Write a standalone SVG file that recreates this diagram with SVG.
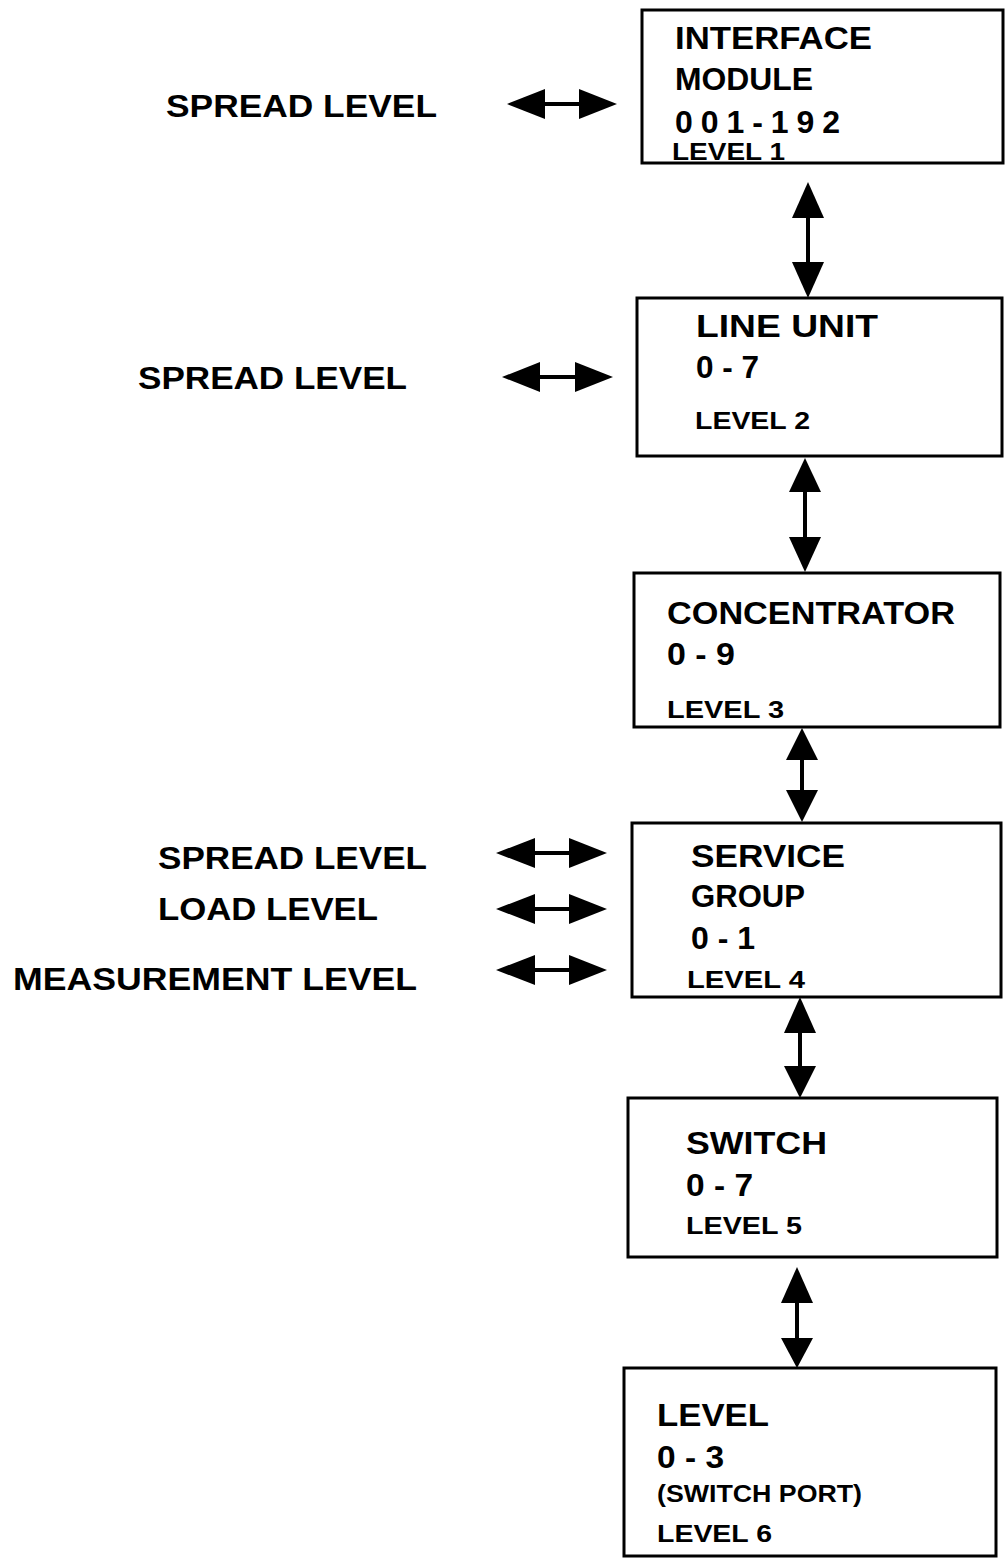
<svg xmlns="http://www.w3.org/2000/svg" width="1006" height="1558" viewBox="0 0 1006 1558">
<style>
.box{fill:#fff;stroke:#000;stroke-width:3}
.t{font-family:"Liberation Sans",Arial,sans-serif;font-weight:bold;font-size:32px;fill:#000}
.s{font-family:"Liberation Sans",Arial,sans-serif;font-weight:bold;font-size:24px;fill:#000}
.l{font-family:"Liberation Sans",Arial,sans-serif;font-weight:bold;font-size:32px;fill:#000}
.shaft{stroke:#000;stroke-width:4;fill:none}
.head{fill:#000}
</style>
<rect width="1006" height="1558" fill="#fff"/>
<g id="labels">
<text class="l" x="166" y="117" textLength="271" lengthAdjust="spacingAndGlyphs">SPREAD LEVEL</text>
<text class="l" x="138" y="389" textLength="269" lengthAdjust="spacingAndGlyphs">SPREAD LEVEL</text>
<text class="l" x="158" y="869" textLength="269" lengthAdjust="spacingAndGlyphs">SPREAD LEVEL</text>
<text class="l" x="158" y="920" textLength="220" lengthAdjust="spacingAndGlyphs">LOAD LEVEL</text>
<text class="l" x="13" y="990" textLength="404" lengthAdjust="spacingAndGlyphs">MEASUREMENT LEVEL</text>
</g>
<g id="node1">
<rect class="box" x="642" y="10" width="361" height="153"/>
<text class="t" x="675" y="49" textLength="197" lengthAdjust="spacingAndGlyphs">INTERFACE</text>
<text class="t" x="675" y="90" textLength="138" lengthAdjust="spacingAndGlyphs">MODULE</text>
<text class="t" x="675" y="133" textLength="165" lengthAdjust="spacing">001-192</text>
<text class="s" x="672" y="160" textLength="113" lengthAdjust="spacingAndGlyphs">LEVEL 1</text>
</g>
<g id="node2">
<rect class="box" x="637" y="298" width="365" height="158"/>
<text class="t" x="696" y="337" textLength="182" lengthAdjust="spacingAndGlyphs">LINE UNIT</text>
<text class="t" x="696" y="378" textLength="63" lengthAdjust="spacingAndGlyphs">0 - 7</text>
<text class="s" x="695" y="429" textLength="115" lengthAdjust="spacingAndGlyphs">LEVEL 2</text>
</g>
<g id="node3">
<rect class="box" x="634" y="573" width="366" height="154"/>
<text class="t" x="667" y="624" textLength="288" lengthAdjust="spacingAndGlyphs">CONCENTRATOR</text>
<text class="t" x="667" y="665" textLength="68" lengthAdjust="spacingAndGlyphs">0 - 9</text>
<text class="s" x="667" y="718" textLength="117" lengthAdjust="spacingAndGlyphs">LEVEL 3</text>
</g>
<g id="node4">
<rect class="box" x="632" y="823" width="369" height="174"/>
<text class="t" x="691" y="867" textLength="154" lengthAdjust="spacingAndGlyphs">SERVICE</text>
<text class="t" x="691" y="907" textLength="114" lengthAdjust="spacingAndGlyphs">GROUP</text>
<text class="t" x="691" y="949" textLength="64" lengthAdjust="spacingAndGlyphs">0 - 1</text>
<text class="s" x="687" y="988" textLength="118" lengthAdjust="spacingAndGlyphs">LEVEL 4</text>
</g>
<g id="node5">
<rect class="box" x="628" y="1098" width="369" height="159"/>
<text class="t" x="686" y="1154" textLength="141" lengthAdjust="spacingAndGlyphs">SWITCH</text>
<text class="t" x="686" y="1196" textLength="67" lengthAdjust="spacingAndGlyphs">0 - 7</text>
<text class="s" x="686" y="1234" textLength="116" lengthAdjust="spacingAndGlyphs">LEVEL 5</text>
</g>
<g id="node6">
<rect class="box" x="624" y="1368" width="372" height="188"/>
<text class="t" x="657" y="1426" textLength="112" lengthAdjust="spacingAndGlyphs">LEVEL</text>
<text class="t" x="657" y="1468" textLength="67" lengthAdjust="spacingAndGlyphs">0 - 3</text>
<text class="s" x="657" y="1502" textLength="205" lengthAdjust="spacingAndGlyphs">(SWITCH PORT)</text>
<text class="s" x="657" y="1542" textLength="115" lengthAdjust="spacingAndGlyphs">LEVEL 6</text>
</g>
<g id="connectors">
<line class="shaft" x1="540" y1="104" x2="584" y2="104"/>
<polygon class="head" points="507,104 545,89 545,119"/>
<polygon class="head" points="617,104 579,89 579,119"/>
<line class="shaft" x1="535" y1="377" x2="580" y2="377"/>
<polygon class="head" points="502,377 540,362 540,392"/>
<polygon class="head" points="613,377 575,362 575,392"/>
<line class="shaft" x1="530" y1="853" x2="574" y2="853"/>
<polygon class="head" points="496,853 535,838 535,868"/>
<polygon class="head" points="607,853 569,838 569,868"/>
<line class="shaft" x1="530" y1="909" x2="574" y2="909"/>
<polygon class="head" points="496,909 535,894 535,924"/>
<polygon class="head" points="607,909 569,894 569,924"/>
<line class="shaft" x1="530" y1="970" x2="574" y2="970"/>
<polygon class="head" points="496,970 535,955 535,985"/>
<polygon class="head" points="607,970 569,955 569,985"/>
<line class="shaft" x1="808" y1="212" x2="808" y2="268"/>
<polygon class="head" points="808,182 792,218 824,218"/>
<polygon class="head" points="808,298 792,262 824,262"/>
<line class="shaft" x1="805" y1="488" x2="805" y2="540"/>
<polygon class="head" points="805,458 789,492 821,492"/>
<polygon class="head" points="805,572 789,537 821,537"/>
<line class="shaft" x1="802" y1="755" x2="802" y2="795"/>
<polygon class="head" points="802,728 786,760 818,760"/>
<polygon class="head" points="802,822 786,790 818,790"/>
<line class="shaft" x1="800" y1="1028" x2="800" y2="1070"/>
<polygon class="head" points="800,997 784,1033 816,1033"/>
<polygon class="head" points="800,1098 784,1066 816,1066"/>
<line class="shaft" x1="797" y1="1298" x2="797" y2="1340"/>
<polygon class="head" points="797,1267 781,1303 813,1303"/>
<polygon class="head" points="797,1368 781,1338 813,1338"/>
</g>
</svg>
